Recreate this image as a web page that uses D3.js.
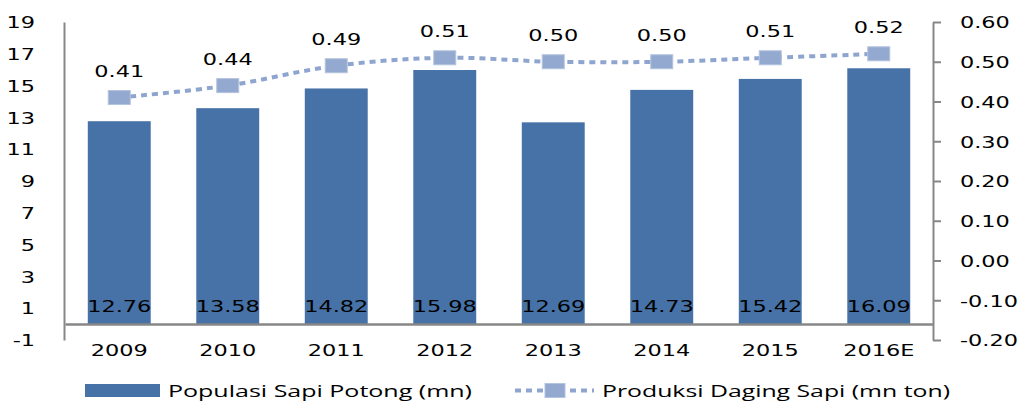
<!DOCTYPE html>
<html><head><meta charset="utf-8">
<script src="https://cdn.jsdelivr.net/npm/d3@7"></script>
<style>
html,body{margin:0;padding:0;background:#fff;}
svg{display:block;}
</style>
</head><body>
<svg id="chart" width="1020" height="401"></svg>
<script>
const categories = ["2009","2010","2011","2012","2013","2014","2015","2016E"];
const populasi = [12.76,13.58,14.82,15.98,12.69,14.73,15.42,16.09];
const produksi = [0.41,0.44,0.49,0.51,0.50,0.50,0.51,0.52];
const leftTicks = [-1,1,3,5,7,9,11,13,15,17,19];
const rightTicks = [-0.2,-0.1,0,0.1,0.2,0.3,0.4,0.5,0.6];
const seriesNames = ["Populasi Sapi Potong (mn)","Produksi Daging Sapi (mn ton)"];

const svg = d3.select("#chart");
const SX = 1.4;
const numFont = "'DejaVu Sans', Verdana, sans-serif";
const barColor = "#4672A7";
const lineColor = "#8EA5CF";
const markColor = "#94A9D0";
const axisColor = "#878787";
const hyph = f => (d => f(d).replace("\u2212","-"));

const x = d3.scaleBand().domain(categories).range([65,933]).paddingInner(0.42).paddingOuter(0.21);
const yL = d3.scaleLinear().domain([-1,19]).range([340,22]);
const yR = d3.scaleLinear().domain([-0.2,0.6]).range([340,22]);
const y0 = yL(0);

// bars
svg.append("g").selectAll("rect").data(populasi).join("rect")
  .attr("x",(d,i)=>x(categories[i]))
  .attr("width",x.bandwidth())
  .attr("y",d=>yL(d))
  .attr("height",d=>y0-yL(d))
  .attr("fill",barColor);

function stretched(sel){
  return sel.attr("font-family",numFont).attr("font-size",16).attr("fill","#000");
}

// bar labels
svg.append("g").selectAll("text").data(populasi).join("text")
  .attr("transform",(d,i)=>`translate(${x(categories[i])+x.bandwidth()/2},311.5) scale(${SX},1)`)
  .attr("text-anchor","middle")
  .call(stretched)
  .text(d=>d.toFixed(2));

// left axis
const gL = svg.append("g").attr("transform","translate(64,0)")
  .call(d3.axisLeft(yL).tickValues(leftTicks).tickSize(0).tickSizeOuter(0).tickFormat(hyph(d3.format("d"))));
gL.select(".domain").attr("stroke",axisColor).attr("stroke-width",2);
gL.selectAll("text").attr("x",-29/SX).attr("dy","0.36em")
  .attr("transform",`scale(${SX},1)`).attr("text-anchor","end").call(stretched);

// right axis
const gR = svg.append("g").attr("transform","translate(933,0)")
  .call(d3.axisRight(yR).tickValues(rightTicks).tickSize(8).tickSizeOuter(0).tickFormat(hyph(d3.format(".2f"))));
gR.select(".domain").attr("stroke",axisColor).attr("stroke-width",2);
gR.selectAll(".tick line").attr("stroke",axisColor).attr("stroke-width",2);
gR.selectAll("text").attr("x",27/SX).attr("dy","0.36em")
  .attr("transform",`scale(${SX},1)`).attr("text-anchor","start").call(stretched);

// bottom axis
const gB = svg.append("g").attr("transform",`translate(0,${y0})`)
  .call(d3.axisBottom(x).tickSize(0).tickSizeOuter(0));
gB.select(".domain").attr("stroke",axisColor).attr("stroke-width",2.5);
gB.selectAll("text").attr("y",31.5).attr("dy",0)
  .attr("transform",`scale(${SX},1)`).call(stretched);

// line
const cx = (i)=>x(categories[i])+x.bandwidth()/2;
const line = d3.line().x((d,i)=>cx(i)).y(d=>yR(d)).curve(d3.curveCatmullRom.alpha(0.5));
svg.append("path").datum(produksi).attr("d",line)
  .attr("fill","none").attr("stroke",lineColor).attr("stroke-width",4).attr("stroke-dasharray","6,5");

// markers
svg.append("g").selectAll("rect").data(produksi).join("rect")
  .attr("x",(d,i)=>cx(i)-11).attr("y",d=>yR(d)-7)
  .attr("width",22).attr("height",14)
  .attr("fill",markColor).attr("stroke","#B4C3DE").attr("stroke-width",1);

// line labels
svg.append("g").selectAll("text").data(produksi).join("text")
  .attr("transform",(d,i)=>`translate(${cx(i)},${yR(d)-20.5}) scale(${SX},1)`)
  .attr("text-anchor","middle").call(stretched)
  .text(d=>d.toFixed(2));

// legend
const lg = svg.append("g");
lg.append("rect").attr("x",85).attr("y",384).attr("width",75).attr("height",13).attr("fill",barColor);
lg.append("text").attr("x",168).attr("y",396.5)
  .attr("font-family","'Open Sans', sans-serif").attr("font-size",16.5).attr("fill","#000")
  .attr("textLength",304).attr("lengthAdjust","spacingAndGlyphs")
  .text(seriesNames[0]);
lg.append("line").attr("x1",515).attr("x2",594).attr("y1",390.5).attr("y2",390.5)
  .attr("stroke",lineColor).attr("stroke-width",4).attr("stroke-dasharray","6,5");
lg.append("rect").attr("x",545).attr("y",383.5).attr("width",20).attr("height",14)
  .attr("fill",markColor).attr("stroke","#B4C3DE").attr("stroke-width",1);
lg.append("text").attr("x",602).attr("y",396.5)
  .attr("font-family","'Open Sans', sans-serif").attr("font-size",16.5).attr("fill","#000")
  .attr("textLength",348).attr("lengthAdjust","spacingAndGlyphs")
  .text(seriesNames[1]);
</script>
</body></html>
